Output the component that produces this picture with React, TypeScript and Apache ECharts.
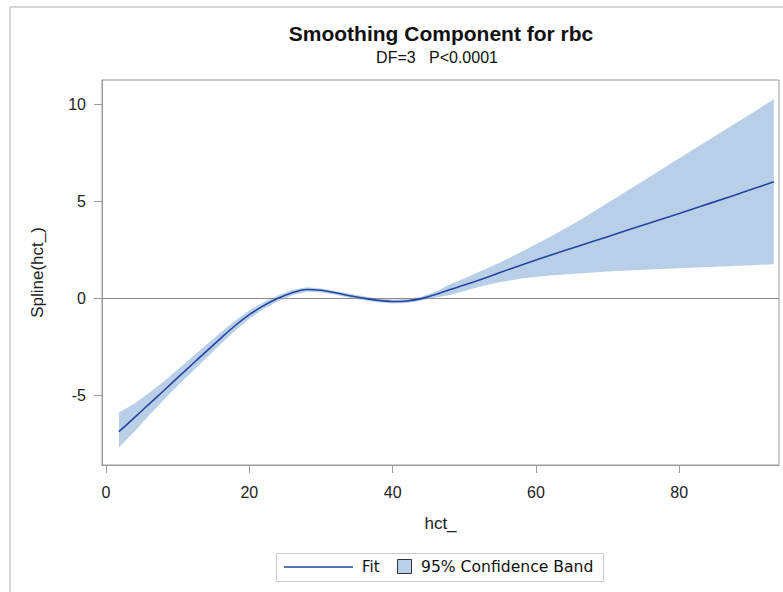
import React, { useEffect, useRef } from "react";
import * as echarts from "echarts";

const titleText = "Smoothing Component for rbc";
const subtitleText = "DF=3   P<0.0001";
const xName = "hct_";
const yName = "Spline(hct_)";
const legendFit = "Fit";
const legendBand = "95% Confidence Band";

const xTicks = [0, 20, 40, 60, 80];
const yTicks = [-5, 0, 5, 10];

const hct = [1.8, 4, 6, 8, 10, 12, 14, 16, 18, 20, 22, 24, 26, 28, 30, 32, 34, 36, 38, 40, 42, 44, 46, 48, 50, 52, 55, 58, 62, 66, 70, 75, 80, 85, 90, 93.2];
const fit = [-6.89, -6.15, -5.47, -4.79, -4.10, -3.42, -2.74, -2.07, -1.42, -0.85, -0.38, 0.0, 0.29, 0.45, 0.41, 0.28, 0.13, 0.0, -0.11, -0.17, -0.14, -0.02, 0.19, 0.45, 0.68, 0.93, 1.33, 1.72, 2.22, 2.70, 3.18, 3.78, 4.38, 4.99, 5.61, 6.02];
const lower = [-7.70, -6.87, -6.05, -5.27, -4.52, -3.80, -3.08, -2.37, -1.68, -1.07, -0.56, -0.15, 0.16, 0.33, 0.31, 0.18, 0.03, -0.10, -0.21, -0.27, -0.24, -0.12, 0.04, 0.17, 0.38, 0.58, 0.84, 1.02, 1.17, 1.28, 1.38, 1.47, 1.55, 1.63, 1.71, 1.76];
const upper = [-5.90, -5.43, -4.89, -4.31, -3.68, -3.04, -2.40, -1.77, -1.16, -0.63, -0.20, 0.15, 0.42, 0.57, 0.51, 0.38, 0.23, 0.10, -0.01, -0.07, -0.04, 0.08, 0.34, 0.72, 1.02, 1.35, 1.85, 2.40, 3.18, 4.00, 4.92, 6.07, 7.23, 8.38, 9.53, 10.27];

const LINE = "#2246a0";
const BAND = "#b9cfe8";
const FONT = "'Liberation Sans', Arial, sans-serif";
const LFONT = "'DejaVu Sans', sans-serif";

export default function App() {
  const ref = useRef<HTMLDivElement>(null);
  useEffect(() => {
    if (!ref.current) return;
    const chart = echarts.init(ref.current, undefined, { renderer: "svg" });
    const bandData = hct.map((x, i) => [x, lower[i], upper[i]]);
    chart.setOption({
      animation: false,
      backgroundColor: "#ffffff",
      grid: { left: 102, right: 4, top: 80, bottom: 127, show: true, borderColor: "#9a9a9a", borderWidth: 1, backgroundColor: "transparent" },
      xAxis: {
        type: "value",
        min: -0.56,
        max: 93.92,
        name: xName,
        nameLocation: "middle",
        nameGap: 50,
        nameTextStyle: { fontFamily: FONT, fontSize: 17, color: "#222" },
        axisLine: { show: true, onZero: false, lineStyle: { color: "#9a9a9a" } },
        axisTick: { show: true, length: 8, lineStyle: { color: "#9a9a9a" }, customValues: xTicks },
        axisLabel: { fontFamily: FONT, fontSize: 16, color: "#222", margin: 19, customValues: xTicks },
        splitLine: { show: false },
      },
      yAxis: {
        type: "value",
        min: -8.61,
        max: 11.27,
        name: yName,
        nameLocation: "middle",
        nameGap: 56,
        nameRotate: 90,
        nameTextStyle: { fontFamily: FONT, fontSize: 17, color: "#222" },
        axisLine: { show: true, onZero: false, lineStyle: { color: "#9a9a9a" } },
        axisTick: { show: true, length: 8, lineStyle: { color: "#9a9a9a" }, customValues: yTicks },
        axisLabel: { fontFamily: FONT, fontSize: 16, color: "#222", margin: 16, customValues: yTicks },
        splitLine: { show: false },
      },
      series: [
        {
          type: "custom",
          name: legendBand,
          data: bandData,
          encode: { x: 0, y: [1, 2] },
          silent: true,
          z: 1,
          renderItem: (params: any, api: any) => {
            if (params.dataIndex !== 0) return null;
            const top = hct.map((x, i) => api.coord([x, upper[i]]));
            const bot = hct.map((x, i) => api.coord([x, lower[i]])).reverse();
            return { type: "polygon", shape: { points: top.concat(bot) }, style: { fill: BAND } };
          },
        },
        {
          type: "line",
          name: legendFit,
          data: hct.map((x, i) => [x, fit[i]]),
          smooth: 0.3,
          showSymbol: false,
          z: 3,
          lineStyle: { color: LINE, width: 1.6 },
          markLine: {
            silent: true,
            symbol: "none",
            label: { show: false },
            lineStyle: { color: "#8c8c8c", width: 1, type: "solid" },
            data: [{ yAxis: 0 }],
            z: 2,
          },
        },
      ],
      graphic: [
        { type: "line", shape: { x1: 10, y1: 7, x2: 10, y2: 592 }, style: { stroke: "#d6d6d6", lineWidth: 2 } },
        { type: "line", shape: { x1: 10, y1: 7, x2: 783, y2: 7 }, style: { stroke: "#d6d6d6", lineWidth: 2 } },
        { type: "text", x: 441, y: 33, style: { text: titleText, fontFamily: FONT, fontSize: 21, fontWeight: "bold", fill: "#111", textAlign: "center", textVerticalAlign: "middle" } },
        { type: "text", x: 437, y: 57, style: { text: subtitleText, fontFamily: FONT, fontSize: 16, fill: "#111", textAlign: "center", textVerticalAlign: "middle" } },
        { type: "rect", shape: { x: 276.5, y: 553.5, width: 327, height: 28 }, style: { fill: "#fff", stroke: "#c8c8c8", lineWidth: 1 } },
        { type: "line", shape: { x1: 284, y1: 567, x2: 353, y2: 567 }, style: { stroke: LINE, lineWidth: 1.6 } },
        { type: "text", x: 362, y: 567, style: { text: legendFit, fontFamily: LFONT, fontSize: 15, fill: "#111", textVerticalAlign: "middle" } },
        { type: "rect", shape: { x: 397.5, y: 559.5, width: 14, height: 14 }, style: { fill: BAND, stroke: "#333", lineWidth: 1 } },
        { type: "text", x: 421, y: 567, style: { text: legendBand, fontFamily: LFONT, fontSize: 15.6, fill: "#111", textVerticalAlign: "middle" } },
      ],
    });
    return () => chart.dispose();
  }, []);
  return <div ref={ref} style={{ position: "absolute", left: 0, top: 0, width: 783, height: 592 }} />;
}
